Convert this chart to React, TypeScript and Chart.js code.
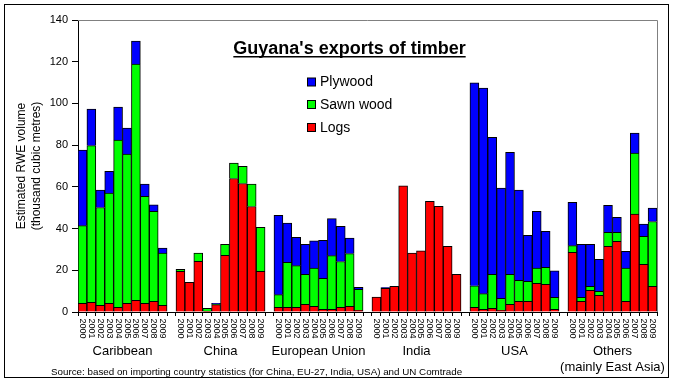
import { useEffect, useRef } from 'react';
import { Chart, registerables } from 'chart.js';
Chart.register(...registerables);

const FONT = '"Liberation Sans", Arial, sans-serif';

const regions = ['Caribbean', 'China', 'European Union', 'India', 'USA', 'Others'];
const regionSubtitles = ['', '', '', '', '', '(mainly East Asia)'];
const years = ['2000', '2001', '2002', '2003', '2004', '2005', '2006', '2007', '2008', '2009'];
const yTicks = [0, 20, 40, 60, 80, 100, 120, 140];

// thousand cubic metres RWE, 2000-2009 per region (Caribbean, China, EU, India, USA, Others)
const logs = [
  4.2, 4.6, 3.2, 4.2, 2.2, 4.2, 5.6, 4.2, 5.1, 3.2,
  19.5, 14.2, 24.3, 0.4, 3.5, 27.2, 64.0, 61.6, 50.6, 19.5,
  2.2, 2.2, 2.2, 3.7, 2.7, 1.3, 1.3, 2.2, 2.7, 0.8,
  7.2, 11.4, 12.3, 60.5, 28.2, 29.3, 53.1, 50.7, 31.5, 18.1,
  2.2, 1.3, 1.8, 0.8, 3.7, 5.1, 5.1, 13.8, 13.3, 1.3,
  28.6, 5.1, 10.4, 8.0, 31.5, 33.9, 5.1, 46.9, 22.9, 12.3,
];
const sawnWood = [
  37.2, 75.2, 46.9, 52.8, 80.2, 71.5, 113.3, 51.3, 43.2, 25.0,
  1.0, 0, 3.9, 1.4, 0.4, 5.3, 7.4, 8.3, 10.7, 21.1,
  6.1, 21.6, 20.0, 14.4, 18.3, 14.9, 25.7, 22.0, 25.3, 10.1,
  0, 0, 0, 0, 0, 0, 0, 0, 0, 0,
  10.4, 7.5, 16.3, 5.8, 14.4, 10.1, 9.6, 7.2, 8.1, 5.7,
  3.2, 1.9, 1.9, 1.9, 6.7, 4.3, 15.9, 29.3, 13.4, 31.1,
];
const plywood = [
  36.2, 17.5, 8.3, 10.5, 15.8, 12.5, 11.0, 5.8, 3.1, 2.4,
  0, 0, 0, 0, 0.3, 0, 0, 0, 0, 0,
  38.1, 18.8, 13.6, 14.4, 13.1, 18.2, 17.8, 16.9, 7.4, 0.9,
  0, 0.3, 0, 0, 0, 0, 0, 0, 0, 0,
  97.3, 98.6, 65.7, 52.8, 58.5, 43.2, 22.1, 27.3, 17.3, 12.7,
  20.8, 25.5, 20.2, 15.4, 13.0, 7.2, 8.1, 9.6, 5.8, 6.4,
];

const seriesNames = ['Logs', 'Sawn wood', 'Plywood'];
const seriesColors = ['#FF0000', '#00FF00', '#0000FF'];

// build category axis with a blank slot between regions
const labels: string[] = [];
const groupOf: number[] = [];
const slotOf: number[] = []; // index into value arrays, -1 for gap
regions.forEach((_, g) => {
  years.forEach((y, k) => {
    labels.push(y);
    groupOf.push(g);
    slotOf.push(g * years.length + k);
  });
  if (g < regions.length - 1) {
    labels.push('');
    groupOf.push(-1);
    slotOf.push(-1);
  }
});

const toData = (arr: number[]) => slotOf.map((s) => (s < 0 || !arr[s] ? null : arr[s]));

const decor = {
  id: 'decor',
  beforeDatasetsDraw(chart: any) {
    const { ctx, chartArea: a } = chart;
    ctx.save();
    ctx.strokeStyle = '#808080';
    ctx.lineWidth = 1;
    ctx.beginPath();
    ctx.moveTo(a.left, Math.round(a.top) + 0.5);
    ctx.lineTo(Math.round(a.right) + 0.5, Math.round(a.top) + 0.5);
    ctx.lineTo(Math.round(a.right) + 0.5, a.bottom);
    ctx.stroke();
    ctx.restore();
  },
  afterDraw(chart: any) {
    const { ctx } = chart;
    const xs = chart.scales.x;
    ctx.save();
    ctx.fillStyle = '#000';
    // year labels, rotated clockwise
    ctx.font = `9px ${FONT}`;
    labels.forEach((lab, i) => {
      if (!lab) return;
      const x = xs.getPixelForValue(i);
      ctx.save();
      ctx.translate(x, 318.5);
      ctx.rotate(Math.PI / 2);
      ctx.textAlign = 'left';
      ctx.textBaseline = 'middle';
      ctx.fillText(lab, 0, 0);
      ctx.restore();
    });
    // region labels
    ctx.font = `13px ${FONT}`;
    ctx.textAlign = 'center';
    ctx.textBaseline = 'middle';
    regions.forEach((r, g) => {
      const idx = groupOf.map((v, i) => (v === g ? i : -1)).filter((i) => i >= 0);
      const cx = (xs.getPixelForValue(idx[0]) + xs.getPixelForValue(idx[idx.length - 1])) / 2;
      ctx.fillText(r, cx, 351);
      if (regionSubtitles[g]) ctx.fillText(regionSubtitles[g], cx, 367);
    });
    // source
    ctx.font = `9.8px ${FONT}`;
    ctx.textAlign = 'left';
    ctx.fillText('Source: based on importing country statistics (for China, EU-27, India, USA) and UN Comtrade', 51, 372);
    // title
    ctx.font = `bold 18px ${FONT}`;
    ctx.textAlign = 'center';
    ctx.textBaseline = 'alphabetic';
    const title = "Guyana's exports of timber";
    const tw = ctx.measureText(title).width;
    const tcx = 349.5;
    ctx.fillText(title, tcx, 54);
    ctx.fillRect(tcx - tw / 2, 56, tw, 1.5);
    // legend
    ctx.font = `14px ${FONT}`;
    ctx.textAlign = 'left';
    const legendOrder = [2, 1, 0];
    const baselines = [86, 108.5, 131.5];
    legendOrder.forEach((si, k) => {
      const by = baselines[k];
      ctx.fillStyle = '#000';
      ctx.fillRect(307, by - 8.5, 9, 9);
      ctx.fillStyle = seriesColors[si];
      ctx.fillRect(308, by - 7.5, 7, 7);
      ctx.fillStyle = '#000';
      ctx.fillText(seriesNames[si], 320, by);
    });
    // outer border
    ctx.strokeStyle = '#000';
    ctx.lineWidth = 1;
    ctx.strokeRect(4.5, 4.5, 664, 373);
    ctx.restore();
  },
};

export default function App() {
  const ref = useRef<HTMLCanvasElement>(null);
  useEffect(() => {
    const chart = new Chart(ref.current!, {
      type: 'bar',
      data: {
        labels,
        datasets: [logs, sawnWood, plywood].map((arr, si) => ({
          label: seriesNames[si],
          data: toData(arr),
          backgroundColor: seriesColors[si],
          borderColor: '#000',
          borderWidth: { top: 1, left: 1, right: 1, bottom: 0 },
          categoryPercentage: 1,
          barPercentage: 1,
          stack: 's',
        })),
      },
      options: {
        responsive: false,
        devicePixelRatio: 1,
        animation: false,
        layout: { padding: { left: 0, top: 20, right: 16, bottom: 0 } },
        plugins: { legend: { display: false }, tooltip: { enabled: false }, title: { display: false } },
        scales: {
          x: {
            stacked: true,
            grid: { drawOnChartArea: false, color: '#000', tickLength: 4, offset: true },
            border: { color: '#000', width: 1 },
            ticks: { display: false },
            afterFit: (s: any) => { s.height = 71; },
          },
          y: {
            stacked: true,
            min: 0,
            max: 140,
            afterBuildTicks: (s: any) => { s.ticks = yTicks.map((v) => ({ value: v })); },
            grid: { drawOnChartArea: false, color: '#000', tickLength: 6 },
            border: { color: '#000', width: 1 },
            ticks: { color: '#000', font: { size: 11, family: FONT }, padding: 4 },
            title: {
              display: true,
              text: ['Estimated RWE volume', '(thousand cubic metres)'],
              color: '#000',
              font: { size: 12, family: FONT, lineHeight: 1.25 },
              padding: { top: 14.5, bottom: 0 },
            },
            afterFit: (s: any) => { s.width = 78; },
          },
        },
      },
      plugins: [decor],
    } as any);
    return () => chart.destroy();
  }, []);
  return (
    <div style={{ position: 'fixed', left: 0, top: 0, width: 673, height: 383, background: '#fff' }}>
      <canvas ref={ref} width={673} height={383} style={{ display: 'block', width: 673, height: 383 }} />
    </div>
  );
}
